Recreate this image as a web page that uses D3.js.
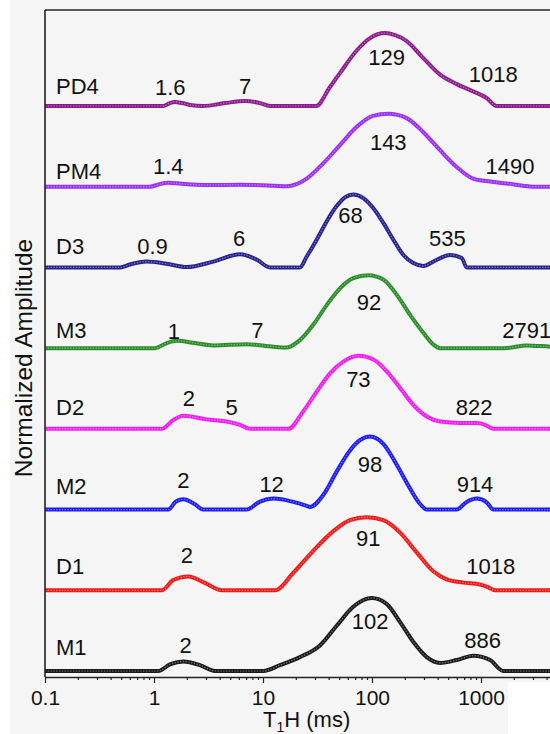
<!DOCTYPE html>
<html>
<head>
<meta charset="utf-8">
<script src="https://cdn.jsdelivr.net/npm/d3@7"></script>
<style>
  body { margin: 0; background: #fff; }
  svg { display: block; }
  text { font-family: "Liberation Sans", Arial, sans-serif; fill: #111; }
</style>
</head>
<body>
<div id="chart"></div>
<script>
// === DATA (T1H in ms, normalized amplitude) ===
const samples = ["PD4", "PM4", "D3", "M3", "D2", "M2", "D1", "M1"];
const sampleColors = ["#8c1c8c", "#9a2ff5", "#25238f", "#2a8c2a", "#f01cf0", "#1c1cf5", "#f01818", "#1a1a1a"];

const pd4 = [[0.1,0],[1.21,0],[1.40,0.04],[1.56,0.055],[1.81,0.04],[2.14,0.015],[2.83,0],[4.48,0.04],[6.84,0.068],[9.38,0.04],[11.6,0],[30.6,0],[41.2,0.26],[50.8,0.45],[72.4,0.76],[95.9,0.93],[131.5,1.0],[163,0.97],[208,0.89],[294,0.66],[421,0.43],[598,0.30],[845,0.20],[1127,0.11],[1393,0],[5310,0]];
const pm4 = [[0.1,0],[0.918,0],[1.1,0.03],[1.35,0.055],[1.8,0.04],[3.04,0.023],[6.15,0.027],[12.4,0.014],[16.5,0.005],[25.2,0.11],[35.7,0.32],[50.8,0.57],[72.4,0.82],[102,0.97],[141,1.0],[208,0.94],[294,0.75],[421,0.50],[598,0.27],[845,0.11],[1210,0.07],[1722,0.045],[2427,0.014],[3000,0],[5310,0]];
const d3s = [[0.1,0],[0.488,0],[0.6,0.04],[0.857,0.08],[1.3,0.05],[2.0,0.005],[3.5,0.08],[6.15,0.18],[8.8,0.105],[11.6,0],[21.8,0],[25.2,0.15],[31.1,0.38],[38.4,0.63],[47.4,0.84],[56.5,0.96],[67.3,1.0],[83.2,0.95],[103,0.81],[127,0.61],[157,0.38],[194,0.17],[239,0.06],[296,0.02],[365,0.08],[520,0.17],[665,0.13],[739,0],[5310,0]];
const m3 = [[0.1,0],[1.02,0],[1.31,0.07],[1.62,0.10],[2.37,0.07],[3.5,0.037],[7.08,0.055],[12.4,0.02],[16.5,0.01],[21.8,0.11],[28.9,0.32],[38.4,0.59],[50.8,0.82],[67.3,0.96],[92.5,1.0],[127,0.94],[169,0.73],[223,0.46],[296,0.21],[365,0.05],[421,0],[1660,0],[2624,0.037],[4295,0.02],[5310,0.015]];
const d2 = [[0.1,0],[1.18,0],[1.5,0.12],[1.86,0.18],[3.04,0.13],[4.64,0.10],[6.15,0.055],[7.6,0],[17.1,0],[23.4,0.24],[31.1,0.51],[41.2,0.76],[54.5,0.92],[74.8,1.0],[103,0.95],[136,0.79],[181,0.56],[239,0.33],[318,0.17],[421,0.10],[641,0.08],[914,0.08],[1127,0.045],[1297,0],[5310,0]];
const m2 = [[0.1,0],[1.35,0],[1.59,0.11],[1.86,0.14],[2.33,0.08],[2.83,0],[7.08,0],[9.38,0.11],[12.4,0.15],[19.0,0.105],[25.2,0.05],[27.0,0.035],[35.7,0.20],[47.4,0.52],[62.8,0.81],[77.6,0.95],[95.9,1.0],[127,0.90],[169,0.61],[223,0.29],[275,0.08],[318,0],[598,0],[739,0.105],[914,0.15],[1127,0.10],[1297,0],[5310,0]];
const d1 = [[0.1,0],[1.18,0],[1.5,0.14],[2.06,0.19],[2.9,0.105],[4.18,0],[12.9,0],[19.0,0.24],[28.9,0.54],[44.2,0.81],[62.8,0.96],[89.3,1.0],[127,0.96],[181,0.79],[257,0.52],[365,0.26],[484,0.15],[689,0.105],[980,0.08],[1167,0.04],[1343,0],[5310,0]];
const m1 = [[0.1,0],[1.094,0],[1.4,0.09],[1.86,0.13],[2.64,0.08],[3.63,0],[10.07,0],[14.3,0.08],[21.8,0.19],[33.3,0.35],[47.4,0.62],[67.3,0.88],[99.3,1.0],[136,0.92],[181,0.67],[239,0.40],[318,0.19],[421,0.11],[598,0.15],[850,0.21],[1210,0.15],[1603,0],[5310,0]];
const seriesValues = [pd4, pm4, d3s, m3, d2, m2, d1, m1];

// peak annotations: [text, T1H, amplitude level of text baseline]
const pd4Peaks = [["1.6",1.41,0.15],["7",6.84,0.17],["129",136,0.56],["1018",1297,0.33]];
const pm4Peaks = [["1.4",1.35,0.18],["143",141,0.50],["1490",1845,0.18]];
const d3Peaks = [["0.9",0.97,0.18],["6",6.05,0.30],["68",63.5,0.61],["535",491,0.30]];
const m3Peaks = [["1",1.52,0.13],["7",8.9,0.14],["92",94,0.52],["2791",2624,0.14]];
const d2Peaks = [["2",2.09,0.31],["5",5.15,0.19],["73",75,0.58],["822",863,0.19]];
const m2Peaks = [["2",1.86,0.29],["12",12.0,0.24],["98",96,0.52],["914",881,0.24]];
const d1Peaks = [["2",2.0,0.38],["91",92.5,0.61],["1018",1227,0.22]];
const m1Peaks = [["2",1.95,0.24],["102",96,0.58],["886",1035,0.32]];
const peakLabels = [pd4Peaks, pm4Peaks, d3Peaks, m3Peaks, d2Peaks, m2Peaks, d1Peaks, m1Peaks];
const nameLevels = [0.17, 0.11, 0.19, 0.14, 0.19, 0.21, 0.22, 0.22];

const xTickValues = [0.1, 1, 10, 100, 1000];
const xTickLabels = ["0.1", "1", "10", "100", "1000"];

// === LAYOUT ===
const width = 550;
const height = 734;
const plotLeft = 45, plotRight = 550, plotTop = 10, plotBottom = 677;

const svg = d3.select("#chart")
    .append("svg")
    .attr("width", width)
    .attr("height", height);

// paper background (scanned look: grey sheet, white margins)
svg.append("rect").attr("width", width).attr("height", height).attr("fill", "#f5f5f5");
svg.append("rect").attr("width", 10).attr("height", height).attr("fill", "#ffffff");
svg.append("rect").attr("x", 508).attr("y", 682).attr("width", 42).attr("height", 52).attr("fill", "#ffffff");

const x = d3.scaleLog().domain([0.1, 10000]).range([plotLeft, plotLeft + 5 * 109]);
const baseY = d3.scalePoint().domain(samples).range([106, 671]);
const amp = d3.scaleLinear().domain([0, 1]).range([0, 73]);

svg.append("clipPath").attr("id", "plot-clip")
    .append("rect").attr("x", plotLeft).attr("y", 0)
    .attr("width", plotRight - plotLeft).attr("height", plotBottom);

// === CURVES ===
const curves = svg.append("g").attr("clip-path", "url(#plot-clip)");

samples.forEach((name, i) => {
    const line = d3.line()
        .x(d => x(d[0]))
        .y(d => baseY(name) - amp(d[1]))
        .curve(d3.curveMonotoneX);

    curves.append("path")
        .datum(seriesValues[i])
        .attr("d", line)
        .attr("fill", "none")
        .attr("stroke", sampleColors[i])
        .attr("stroke-width", 4)
        .attr("stroke-linejoin", "round");

    // light dotted core to mimic the hollow marker beads
    curves.append("path")
        .datum(seriesValues[i])
        .attr("d", line)
        .attr("fill", "none")
        .attr("stroke", "#fff")
        .attr("stroke-opacity", 0.4)
        .attr("stroke-width", 1.2)
        .attr("stroke-dasharray", "1.4 1.4");
});

// === LABELS ===
samples.forEach((name, i) => {
    svg.append("text")
        .attr("x", 56)
        .attr("y", baseY(name) - amp(nameLevels[i]))
        .attr("font-size", 22)
        .text(name);

    svg.append("g").selectAll("text")
        .data(peakLabels[i])
        .enter()
        .append("text")
        .attr("x", d => x(d[1]))
        .attr("y", d => baseY(name) - amp(d[2]))
        .attr("text-anchor", "middle")
        .attr("font-size", 22)
        .text(d => d[0]);
});

// === AXES ===
const minorTicks = [];
xTickValues.forEach(d => { for (let k = 2; k <= 9; k++) minorTicks.push(d * k); });

const xAxis = svg.append("g")
    .attr("transform", `translate(0,${plotBottom})`)
    .call(d3.axisBottom(x)
        .tickValues(xTickValues)
        .tickSize(6)
        .tickSizeOuter(0)
        .tickPadding(7)
        .tickFormat((d, i) => xTickLabels[i]));

svg.append("g")
    .attr("transform", `translate(0,${plotBottom})`)
    .call(d3.axisBottom(x).tickValues(minorTicks).tickSize(3).tickFormat(""))
    .select(".domain").remove();

svg.selectAll(".tick line").attr("stroke", "#222").attr("stroke-width", 1.2);
xAxis.select(".domain").attr("stroke", "#222").attr("stroke-width", 1.6);
xAxis.selectAll(".tick text")
    .attr("font-size", 21)
    .attr("font-family", "'Liberation Sans', Arial, sans-serif")
    .attr("fill", "#111");

// left axis and top frame line
svg.append("line")
    .attr("x1", plotLeft).attr("x2", plotLeft)
    .attr("y1", plotTop).attr("y2", plotBottom)
    .attr("stroke", "#222").attr("stroke-width", 1.6);
svg.append("line")
    .attr("x1", plotLeft).attr("x2", plotRight)
    .attr("y1", plotTop).attr("y2", plotTop)
    .attr("stroke", "#222").attr("stroke-width", 1.6);

// axis titles
const xTitle = svg.append("text")
    .attr("x", 263)
    .attr("y", 727)
    .attr("font-size", 22);
xTitle.append("tspan").text("T");
xTitle.append("tspan").attr("font-size", 14).attr("dy", 5).text("1");
xTitle.append("tspan").attr("dy", -5).text("H (ms)");

svg.append("text")
    .attr("transform", "translate(32,358) rotate(-90)")
    .attr("text-anchor", "middle")
    .attr("font-size", 24.5)
    .text("Normalized Amplitude");
</script>
</body>
</html>
